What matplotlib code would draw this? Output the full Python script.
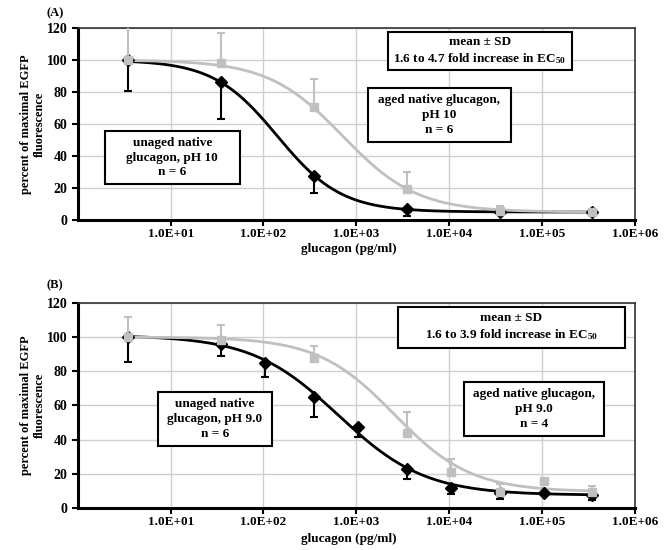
import numpy as np
import matplotlib
matplotlib.use("Agg")
import matplotlib.pyplot as plt
from matplotlib.patches import Rectangle
from matplotlib.ticker import FixedLocator, NullLocator

plt.rcParams['font.family'] = ['Liberation Serif', 'DejaVu Serif']
plt.rcParams['font.weight'] = 'bold'
plt.rcParams['mathtext.fontset'] = 'custom'
plt.rcParams['mathtext.rm'] = 'Liberation Serif:bold'
plt.rcParams['mathtext.it'] = 'Liberation Serif:bold'
plt.rcParams['mathtext.bf'] = 'Liberation Serif:bold'

# ---- data ----
# panel A (pH 10)
x_a = [3.5, 35, 350, 3500, 35000, 350000]
unaged_a = [100, 86.4, 27.7, 6.6, 5.2, 5.0]
unaged_a_sd = [19.4, 23.5, 10.6, 4.0, 1.5, 1.0]
aged_a = [100, 97.9, 70.4, 19.4, 5.8, 4.8]
aged_a_sd = [21, 19, 17.7, 10.4, 3.0, 2.0]
# 4-parameter logistic fits: top, bottom, EC50, hill
fit_unaged_a = [100, 5, 141, 1.26]
fit_aged_a = [100, 5, 714, 1.08]

# panel B (pH 9.0)
x_b_unaged = [3.5, 35, 105, 350, 1050, 3500, 10500, 35000, 105000, 350000]
unaged_b = [100.3, 96, 85, 65, 47.6, 22.6, 11.5, 9.0, 8.5, 7.4]
unaged_b_sd = [14.7, 7, 8.5, 11.7, 6, 5.8, 3.3, 3.5, 1.0, 2.7]
x_b_aged = [3.5, 35, 350, 3500, 10500, 35000, 105000, 350000]
aged_b = [100, 98, 88, 43.7, 21.3, 9.5, 16, 9.3]
aged_b_sd = [12, 9, 7, 12.7, 7.4, 4.4, 0, 3.6]
fit_unaged_b = [101, 7.5, 640, 0.93]
fit_aged_b = [100, 9.5, 2570, 1.05]

tick_x = [1e1, 1e2, 1e3, 1e4, 1e5, 1e6]
tick_x_labels = ["1.0E+01", "1.0E+02", "1.0E+03", "1.0E+04", "1.0E+05", "1.0E+06"]
tick_y = [0, 20, 40, 60, 80, 100, 120]

black = "black"
grey = "#c0c0c0"


def logistic(x, p):
    top, bottom, ec50, hill = p
    return bottom + (top - bottom) / (1 + (x / ec50) ** hill)


def draw_panel(ax, xu, yu, su, fu, xg, yg, sg, fg, boxes):
    xs = np.logspace(np.log10(3.5), np.log10(350000), 300)
    ax.plot(xs, logistic(xs, fu), color=black, lw=2, zorder=3)
    ax.plot(xs, logistic(xs, fg), color=grey, lw=2, zorder=4)
    ax.errorbar(xu, yu, yerr=[su, np.zeros(len(su))], fmt="D", color=black,
                ms=6, lw=1.5, capsize=3, capthick=1.5, zorder=5)
    ax.errorbar(xg, yg, yerr=[np.zeros(len(sg)), sg], fmt="s", color=grey,
                ms=6, lw=1.5, capsize=3, capthick=1.5, zorder=6)

    ax.set_xscale("log")
    ax.set_xlim(1, 1e6)
    ax.set_ylim(0, 120)
    ax.xaxis.set_major_locator(FixedLocator(tick_x))
    ax.xaxis.set_minor_locator(NullLocator())
    ax.set_xticklabels(tick_x_labels)
    ax.set_yticks(tick_y)
    ax.tick_params(axis="both", direction="out", length=4, width=1.5)
    ax.tick_params(axis="x", labelsize=9.5, pad=2)
    ax.tick_params(axis="y", labelsize=10)
    ax.grid(True, color="#cfcfcf", lw=1)
    ax.set_axisbelow(True)
    for s in ["left", "bottom"]:
        ax.spines[s].set_linewidth(2.2)
    for s in ["top", "right"]:
        ax.spines[s].set_linewidth(1.2)
        ax.spines[s].set_color("#333333")

    for (x0, y0, x1, y1, txt) in boxes:
        ax.add_patch(Rectangle((x0, y0), x1 - x0, y1 - y0, transform=ax.transAxes,
                               fill=True, facecolor="white", edgecolor="black",
                               lw=1.5, zorder=7))
        ax.text((x0 + x1) / 2, (y0 + y1) / 2, txt, transform=ax.transAxes,
                ha="center", va="center", fontsize=9.5, linespacing=1.3, zorder=8)


fig = plt.figure(figsize=(6.71, 5.5), dpi=100)
ax1 = fig.add_axes([0.116, 0.600, 0.830, 0.349])
ax2 = fig.add_axes([0.116, 0.0764, 0.830, 0.373])

draw_panel(ax1, x_a, unaged_a, unaged_a_sd, fit_unaged_a,
           x_a, aged_a, aged_a_sd, fit_aged_a,
           [(0.557, 0.781, 0.887, 0.979, "mean ± SD\n1.6 to 4.7 fold increase in EC$_{50}$"),
            (0.521, 0.406, 0.777, 0.6875, "aged native glucagon,\npH 10\nn = 6"),
            (0.0485, 0.1875, 0.291, 0.4635, "unaged native\nglucagon, pH 10\nn = 6")])

draw_panel(ax2, x_b_unaged, unaged_b, unaged_b_sd, fit_unaged_b,
           x_b_aged, aged_b, aged_b_sd, fit_aged_b,
           [(0.575, 0.780, 0.982, 0.980, "mean ± SD\n1.6 to 3.9 fold increase in EC$_{50}$"),
            (0.693, 0.351, 0.944, 0.615, "aged native glucagon,\npH 9.0\nn = 4"),
            (0.1436, 0.302, 0.348, 0.566, "unaged native\nglucagon, pH 9.0\nn = 6")])

fig.text(0.070, 1 - 13 / 550, "(A)", fontsize=9, ha="left", va="center")
fig.text(0.070, 1 - 285 / 550, "(B)", fontsize=9, ha="left", va="center")
for yc in [1 - 124 / 550, 1 - 405 / 550]:
    fig.text(0.049, yc, "percent of maximal EGFP\nfluorescence", rotation=90,
             ha="center", va="center", fontsize=9, linespacing=1.2)
fig.text(349 / 671, 1 - 249 / 550, "glucagon (pg/ml)", ha="center", va="center", fontsize=9.5)
fig.text(349 / 671, 1 - 539 / 550, "glucagon (pg/ml)", ha="center", va="center", fontsize=9.5)

fig.savefig("out.png", dpi=100)
